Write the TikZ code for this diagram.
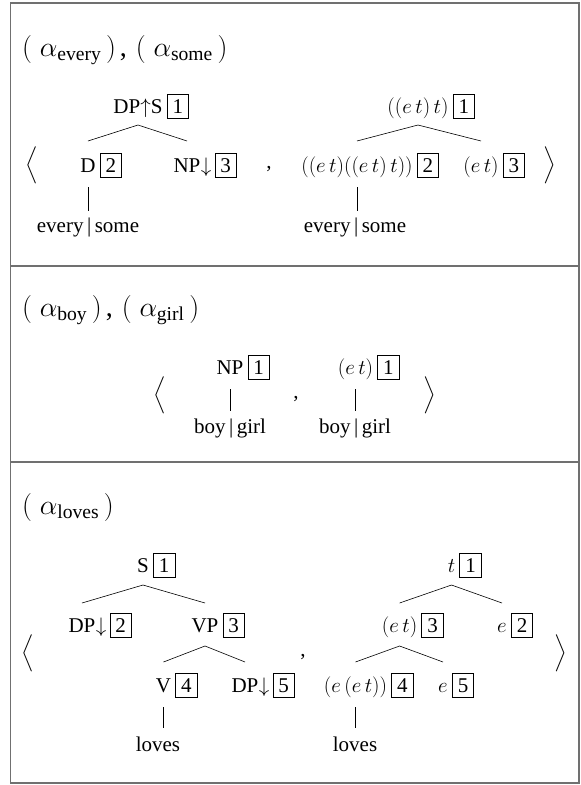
\documentclass[tikz,border=0pt]{standalone}
\usepackage{fix-cm}
\usepackage{amsmath}
\usepackage{fontspec}
\setmainfont{Liberation Serif}
\usetikzlibrary{calc}
\definecolor{framegray}{HTML}{707070}
\begin{document}
\begin{tikzpicture}[x=1pt,y=-1pt,
  every node/.style={font=\fontsize{21}{25}\selectfont},
  lab/.style={inner sep=0pt, anchor=base},
  labw/.style={inner sep=0pt, anchor=base west},
  ttl/.style={inner sep=0pt, anchor=base west, font=\fontsize{28}{32}\selectfont},
  bx/.style={draw, line width=0.7pt, inner xsep=5.5pt, inner ysep=5pt, text height=14pt, text depth=0pt, anchor=base west},
  edge/.style={line width=0.6pt},
  frame/.style={draw=framegray, line width=1.2pt},
  delim/.style={inner sep=0pt, anchor=center}]
\useasboundingbox (0,0) rectangle (581,785);
% frames
\draw[frame] (10.5,3) rectangle (579,783);
\draw[frame] (10.5,266) -- (579,266);
\draw[frame] (10.5,462) -- (579,462);

% ---------------- panel 1 ----------------
\node[ttl] (title1) at (22,56) {$(\;\alpha_{\text{every}}\,)$\hspace{4pt},\hspace{9pt}$(\;\alpha_{\text{some}}\,)$};
\node[delim] (la1) at (32,165) {$\Big\langle$};
\node[delim] (ra1) at (550,165) {$\Big\rangle$};
\node[lab] (dps) at (138,113) {DP$\uparrow$S};
\node[bx] (dpsb) at ($(dps.base east)+(4,0)$) {1};
\node[lab] (d) at (88,172) {D};
\node[bx] (db) at ($(d.base east)+(4,0)$) {2};
\node[lab] (np) at (187,172) {NP};
\node[labw] (npa) at (np.base east) {$\downarrow$};
\node[bx] (npb) at ($(npa.base east)+(3,0)$) {3};
\node[lab] (cm1) at (269,168) {,};
\node[lab] (ett) at (418,113) {$((e\,t)\,t)$};
\node[bx] (ettb) at ($(ett.base east)+(4,0)$) {1};
\node[lab] (q) at (357,172) {$((e\,t)((e\,t)\,t))$};
\node[bx] (qb) at ($(q.base east)+(4,0)$) {2};
\node[lab] (et1) at (481,172) {$(e\,t)$};
\node[bx] (et1b) at ($(et1.base east)+(4,0)$) {3};
\node[lab] (lf1) at (88,232) {every\,|\,some};
\node[lab] (lf2) at (355,232) {every\,|\,some};
\draw[edge] ($(dps.base)+(0,12)$) -- ($(d.base)+(0,-31)$);
\draw[edge] ($(dps.base)+(0,12)$) -- ($(np.base)+(0,-31)$);
\draw[edge] ($(ett.base)+(0,12)$) -- ($(q.base)+(0,-31)$);
\draw[edge] ($(ett.base)+(0,12)$) -- ($(et1.base)+(0,-31)$);
\draw[edge] ($(d.base)+(0,15)$) -- ($(d.base |- lf1.base)+(0,-21)$);
\draw[edge] ($(q.base)+(0,15)$) -- ($(q.base |- lf2.base)+(0,-21)$);

% ---------------- panel 2 ----------------
\node[ttl] (title2) at (22,316) {$(\;\alpha_{\text{boy}}\,)$\hspace{4pt},\hspace{9pt}$(\;\alpha_{\text{girl}}\,)$};
\node[delim] (la2) at (160,395) {$\Big\langle$};
\node[delim] (ra2) at (430,395) {$\Big\rangle$};
\node[lab] (np2) at (230,374) {NP};
\node[bx] (np2b) at ($(np2.base east)+(4,0)$) {1};
\node[lab] (cm2) at (296,398) {,};
\node[lab] (et2) at (355.5,374) {$(e\,t)$};
\node[bx] (et2b) at ($(et2.base east)+(4,0)$) {1};
\node[lab] (lf3) at (230,433) {boy\,|\,girl};
\node[lab] (lf4) at (355,433) {boy\,|\,girl};
\draw[edge] ($(np2.base)+(0,15)$) -- ($(np2.base |- lf3.base)+(0,-22)$);
\draw[edge] ($(et2.base)+(0,15)$) -- ($(et2.base |- lf4.base)+(0,-22)$);

% ---------------- panel 3 ----------------
\node[ttl] (title3) at (22,514) {$(\;\alpha_{\text{loves}}\,)$};
\node[delim] (la3) at (28,653) {$\Big\langle$};
\node[delim] (ra3) at (561,653) {$\Big\rangle$};
\node[lab] (s) at (143,572) {S};
\node[bx] (sb) at ($(s.base east)+(4,0)$) {1};
\node[lab] (dp) at (82,632) {DP};
\node[labw] (dpa) at (dp.base east) {$\downarrow$};
\node[bx] (dpb) at ($(dpa.base east)+(3,0)$) {2};
\node[lab] (vp) at (205,632) {VP};
\node[bx] (vpb) at ($(vp.base east)+(4,0)$) {3};
\node[lab] (v) at (163.5,692) {V};
\node[bx] (vb) at ($(v.base east)+(4,0)$) {4};
\node[lab] (dp5) at (245,692) {DP};
\node[labw] (dp5a) at (dp5.base east) {$\downarrow$};
\node[bx] (dp5b) at ($(dp5a.base east)+(3,0)$) {5};
\node[lab] (lv1) at (158,751) {loves};
\node[lab] (cm3) at (303,656) {,};
\node[lab] (t) at (451.5,572) {$t$};
\node[bx] (tb) at ($(t.base east)+(4,0)$) {1};
\node[lab] (et3) at (399.6,632) {$(e\,t)$};
\node[bx] (et3b) at ($(et3.base east)+(4,0)$) {3};
\node[lab] (e2) at (502,632) {$e$};
\node[bx] (e2b) at ($(e2.base east)+(4,0)$) {2};
\node[lab] (eet) at (355.5,692) {$(e\,(e\,t))$};
\node[bx] (eetb) at ($(eet.base east)+(4,0)$) {4};
\node[lab] (e5) at (443,692) {$e$};
\node[bx] (e5b) at ($(e5.base east)+(4,0)$) {5};
\node[lab] (lv2) at (355,751) {loves};
\draw[edge] ($(s.base)+(0,13)$) -- ($(dp.base)+(0,-29)$);
\draw[edge] ($(s.base)+(0,13)$) -- ($(vp.base)+(0,-29)$);
\draw[edge] ($(vp.base)+(0,14)$) -- ($(v.base)+(0,-30)$);
\draw[edge] ($(vp.base)+(0,14)$) -- ($(dp5.base)+(0,-30)$);
\draw[edge] ($(v.base)+(0,15)$) -- ($(v.base |- lv1.base)+(0,-23)$);
\draw[edge] ($(t.base)+(0,13)$) -- ($(et3.base)+(0,-29)$);
\draw[edge] ($(t.base)+(0,13)$) -- ($(e2.base)+(0,-29)$);
\draw[edge] ($(et3.base)+(0,14)$) -- ($(eet.base)+(0,-30)$);
\draw[edge] ($(et3.base)+(0,14)$) -- ($(e5.base)+(0,-30)$);
\draw[edge] ($(eet.base)+(0,15)$) -- ($(eet.base |- lv2.base)+(0,-23)$);
\end{tikzpicture}
\end{document}
